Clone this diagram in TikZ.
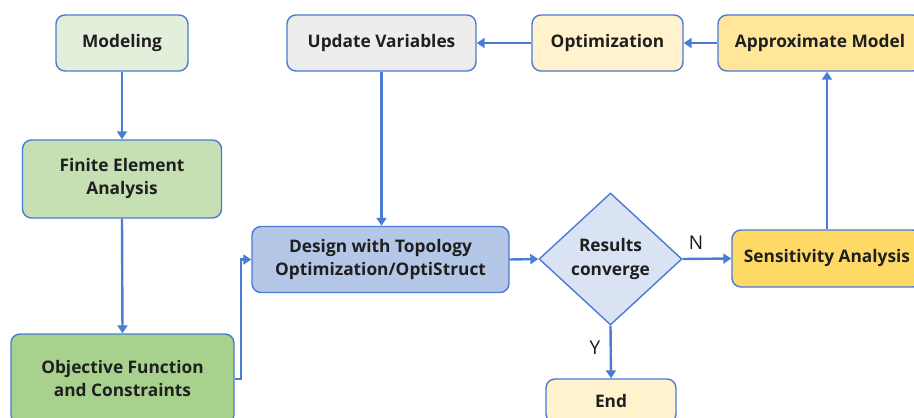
\documentclass[tikz,border=0pt]{standalone}
\usepackage{fontspec}
\setmainfont{Open Sans}
\usetikzlibrary{shapes.geometric,arrows.meta}
\definecolor{edge}{HTML}{4A7BD5}
\definecolor{cModel}{HTML}{E2EFDA}
\definecolor{cFea}{HTML}{C6E0B4}
\definecolor{cObj}{HTML}{A9D18E}
\definecolor{cDesign}{HTML}{B4C7E7}
\definecolor{cDec}{HTML}{DAE3F3}
\definecolor{cUpd}{HTML}{EDEDED}
\definecolor{cOpt}{HTML}{FFF2CC}
\definecolor{cApprox}{HTML}{FFE699}
\definecolor{cSens}{HTML}{FFD966}
\begin{document}
\begin{tikzpicture}[x=1pt,y=-1pt,
  box/.style={draw=edge, line width=1.4pt, rounded corners=9pt, align=center,
    font=\fontsize{17.3}{23}\selectfont\bfseries, text=black!88, inner sep=0pt},
  flow/.style={draw=edge, line width=2.4pt, -{Triangle[length=8pt,width=10pt]}},
  lab/.style={font=\fontsize{19}{22}\selectfont, text=black!90}]
\clip (0,0) rectangle (914,418);
\fill[white] (0,0) rectangle (914,418);
\node[box, fill=cModel, minimum width=132pt, minimum height=56pt] (model) at (122,43) {Modeling};
\node[box, fill=cFea, minimum width=199pt, minimum height=78pt] (fea) at (122,179) {Finite Element\\Analysis};
\node[box, fill=cObj, minimum width=223pt, minimum height=90pt] (obj) at (122.5,379) {Objective Function\\and Constraints};
\node[box, fill=cDesign, minimum width=257pt, minimum height=66pt] (design) at (380.5,259.5) {Design with Topology\\Optimization/OptiStruct};
\node[box, diamond, rounded corners=0pt, fill=cDec, minimum width=143pt, minimum height=132pt, aspect=1.08, font=\fontsize{17.3}{24}\selectfont\bfseries] (dec) at (610.5,259) {Results\\converge};
\node[box, fill=cOpt, minimum width=130pt, minimum height=44pt] (endn) at (611,401) {End};
\node[box, fill=cUpd, minimum width=189pt, minimum height=56pt] (upd) at (381.5,43) {Update Variables};
\node[box, fill=cOpt, minimum width=151pt, minimum height=56pt] (opt) at (607.5,43) {Optimization};
\node[box, fill=cApprox, minimum width=204pt, minimum height=56pt] (approx) at (820,43) {Approximate Model};
\node[box, fill=cSens, minimum width=190pt, minimum height=57pt] (sens) at (827,258.5) {Sensitivity Analysis};
\draw[flow] (model.south) -- (fea.north);
\draw[flow] (fea.south) -- (obj.north);
\draw[flow] (obj.east) -- ++(6,0) |- (design.west);
\draw[flow] (upd.south) -- (design.north -| upd.south);
\draw[flow] (design.east) -- (dec.west);
\draw[flow] (dec.east) -- (sens.west);
\draw[flow] (dec.south) -- (endn.north);
\draw[flow] (sens.north) -- (sens.north |- approx.south);
\draw[flow] (approx.west) -- (opt.east);
\draw[flow] (opt.west) -- (upd.east);
\node[lab] (nlab) at (696,243) {N};
\node[lab] (ylab) at (595,348) {Y};
\end{tikzpicture}
\end{document}
